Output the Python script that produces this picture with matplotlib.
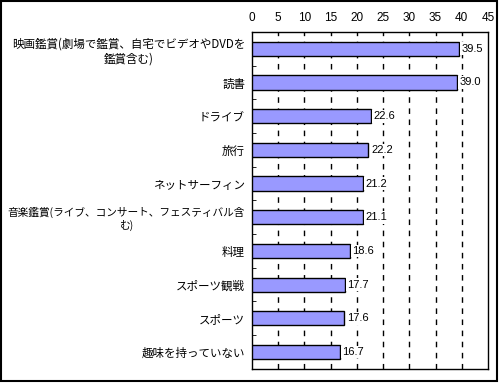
import matplotlib
matplotlib.use("Agg")
import matplotlib.pyplot as plt
from matplotlib.patches import Rectangle

plt.rcParams["font.family"] = ["Noto Sans CJK JP", "DejaVu Sans"]

categories = [
    "映画鑑賞(劇場で鑑賞、自宅でビデオやDVDを\n鑑賞含む)",
    "読書",
    "ドライブ",
    "旅行",
    "ネットサーフィン",
    "音楽鑑賞(ライブ、コンサート、フェスティバル含\nむ)",
    "料理",
    "スポーツ観戦",
    "スポーツ",
    "趣味を持っていない",
]
values = [39.5, 39.0, 22.6, 22.2, 21.2, 21.1, 18.6, 17.7, 17.6, 16.7]
xticks = list(range(0, 50, 5))

fig = plt.figure(figsize=(5, 3.85), dpi=100)
ax = fig.add_axes([0.504, 0.042, 0.472, 0.875])

pos = list(range(len(categories)))
ax.barh(pos, values, height=0.42, color="#9999FF", edgecolor="black",
        linewidth=1, zorder=3)
for p, v in zip(pos, values):
    ax.text(v + 0.5, p, f"{v:.1f}", va="center", ha="left", fontsize=8,
            family=["Liberation Sans", "DejaVu Sans"], zorder=4,
            bbox=dict(facecolor="white", edgecolor="none", pad=1))

ax.set_xlim(0, 45)
ax.set_ylim(len(categories) - 0.5, -0.5)
ax.set_xticks(xticks)
ax.xaxis.tick_top()
ax.tick_params(axis="x", length=0, pad=6, labelsize=8.5)
for lbl in ax.get_xticklabels():
    lbl.set_family(["Liberation Sans", "DejaVu Sans"])
ax.set_yticks(pos)
ax.set_yticklabels(categories, multialignment="center", fontsize=8.3)
ax.tick_params(axis="y", length=0, pad=5)
ax.set_yticks([p + 0.5 for p in pos[:-1]], minor=True)
ax.tick_params(axis="y", which="minor", direction="in", length=3)

# shrink the long labels so they fit inside the frame
renderer = fig.canvas.get_renderer()
for lbl in ax.get_yticklabels():
    w = lbl.get_window_extent(renderer).width
    if w > 238:
        lbl.set_fontsize(8.3 * 238 / w)

for x in xticks[1:-1]:
    ax.axvline(x, color="black", linestyle=(0, (4, 4)), linewidth=1, zorder=1)

for s in ax.spines.values():
    s.set_linewidth(1)

fig.patches.append(Rectangle((0.001, 0.01), 0.993, 0.987, transform=fig.transFigure,
                             fill=False, edgecolor="black", linewidth=1.5))

fig.savefig("out.png", dpi=100)
